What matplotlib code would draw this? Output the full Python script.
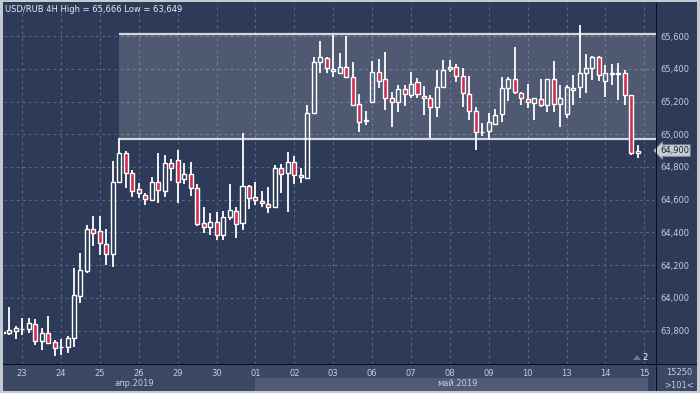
import matplotlib
matplotlib.use('Agg')
import matplotlib.pyplot as plt
from matplotlib.patches import Rectangle, Polygon

# USD/RUB 4H candles (price in rubles)
opens = [63.784, 63.784, 63.800, 63.808, 63.812, 63.841, 63.739, 63.784, 63.729, 63.699,
         63.702, 63.753, 64.013, 64.166, 64.419, 64.409, 64.327, 64.266, 64.710, 64.883,
         64.761, 64.663, 64.627, 64.598, 64.708, 64.655, 64.822, 64.842, 64.725, 64.757,
         64.670, 64.456, 64.431, 64.462, 64.384, 64.496, 64.533, 64.456, 64.685, 64.618,
         64.590, 64.576, 64.554, 64.792, 64.761, 64.828, 64.749, 64.731, 65.128, 65.439,
         65.464, 65.384, 65.376, 65.409, 65.351, 65.183, 65.080, 65.195, 65.378, 65.335,
         65.219, 65.199, 65.274, 65.240, 65.321, 65.235, 65.223, 65.164, 65.290, 65.397,
         65.409, 65.357, 65.244, 65.142, 65.015, 65.020, 65.062, 65.123, 65.281, 65.335,
         65.250, 65.217, 65.193, 65.213, 65.178, 65.335, 65.185, 65.123, 65.281, 65.287,
         65.372, 65.403, 65.470, 65.327, 65.376, 65.376, 65.376, 65.240, 64.887]
highs = [63.804, 63.943, 63.830, 63.875, 63.875, 63.869, 63.814, 63.889, 63.743, 63.747,
         63.767, 64.181, 64.276, 64.445, 64.500, 64.500, 64.419, 64.838, 64.975, 64.899,
         64.780, 64.700, 64.643, 64.737, 64.883, 64.873, 64.847, 64.904, 64.826, 64.832,
         64.696, 64.554, 64.517, 64.527, 64.533, 64.696, 64.554, 65.006, 64.690, 64.710,
         64.653, 64.676, 64.812, 64.818, 64.893, 64.867, 64.792, 65.178, 65.474, 65.569,
         65.474, 65.606, 65.494, 65.600, 65.443, 65.246, 65.144, 65.449, 65.459, 65.500,
         65.260, 65.301, 65.301, 65.382, 65.342, 65.296, 65.240, 65.392, 65.453, 65.453,
         65.429, 65.403, 65.357, 65.168, 65.067, 65.128, 65.152, 65.348, 65.351, 65.531,
         65.260, 65.307, 65.222, 65.335, 65.338, 65.449, 65.301, 65.301, 65.362, 65.666,
         65.490, 65.478, 65.478, 65.423, 65.429, 65.433, 65.392, 65.242, 64.934]
lows = [63.773, 63.773, 63.747, 63.773, 63.784, 63.712, 63.682, 63.718, 63.645, 63.649,
        63.665, 63.702, 63.967, 64.154, 64.317, 64.262, 64.201, 64.191, 64.708, 64.670,
        64.615, 64.609, 64.569, 64.594, 64.578, 64.615, 64.716, 64.578, 64.696, 64.623,
        64.439, 64.398, 64.384, 64.354, 64.354, 64.476, 64.364, 64.415, 64.541, 64.568,
        64.557, 64.521, 64.547, 64.643, 64.527, 64.696, 64.704, 64.725, 65.123, 65.376,
        65.372, 65.351, 65.372, 65.345, 65.172, 65.015, 65.056, 65.189, 65.281, 65.148,
        65.046, 65.138, 65.172, 65.219, 65.219, 65.117, 64.975, 65.103, 65.290, 65.382,
        65.321, 65.164, 65.087, 64.904, 64.989, 64.965, 65.056, 65.076, 65.205, 65.246,
        65.178, 65.158, 65.087, 65.168, 65.138, 65.138, 65.046, 65.097, 65.178, 65.219,
        65.250, 65.331, 65.327, 65.229, 65.301, 65.209, 65.178, 64.873, 64.853]
closes = [63.794, 63.804, 63.814, 63.812, 63.845, 63.739, 63.784, 63.723, 63.692, 63.697,
          63.753, 64.018, 64.170, 64.421, 64.395, 64.334, 64.266, 64.710, 64.883, 64.761,
          64.655, 64.639, 64.606, 64.706, 64.659, 64.822, 64.792, 64.710, 64.757, 64.670,
          64.450, 64.431, 64.462, 64.384, 64.496, 64.537, 64.452, 64.685, 64.609, 64.598,
          64.578, 64.554, 64.792, 64.757, 64.828, 64.751, 64.737, 65.128, 65.439, 65.470,
          65.403, 65.397, 65.409, 65.351, 65.178, 65.076, 65.083, 65.378, 65.327, 65.219,
          65.199, 65.274, 65.244, 65.305, 65.244, 65.219, 65.164, 65.287, 65.392, 65.409,
          65.356, 65.250, 65.142, 65.015, 65.012, 65.073, 65.117, 65.281, 65.335, 65.256,
          65.219, 65.197, 65.219, 65.178, 65.335, 65.185, 65.219, 65.287, 65.270, 65.372,
          65.403, 65.470, 65.362, 65.376, 65.366, 65.366, 65.240, 64.887, 64.900]

day_labels = ['23', '24', '25', '26', '29', '30', '01', '02', '03', '06', '07', '08',
              '09', '10', '13', '14', '15']
month_labels = ['апр.2019', 'май.2019']
price_ticks = [63.8, 64.0, 64.2, 64.4, 64.6, 64.8, 65.0, 65.2, 65.4, 65.6]

# channel drawn on the chart
range_start = 18
range_top = 65.612
range_bottom = 64.970
last_price = 64.900

W, H = 700, 393
BG = '#2e3b58'
STRIP = '#3b4864'
TXT = '#c3cde2'
RED = '#d42b4c'
FONT = 'DejaVu Sans'


def fx(px):
    return px / W


def fy(py):
    return 1 - py / H


def panel(fig, x0, y0, x1, y1, color, z=-2):
    fig.patches.append(Rectangle((fx(x0), fy(y1)), (x1 - x0) / W, (y1 - y0) / H,
                                 transform=fig.transFigure, fc=color, ec='none', zorder=z))


fig = plt.figure(figsize=(7, 3.93), dpi=100)
fig.patch.set_facecolor('#c5c9d1')

panel(fig, 3, 2, 697, 391, BG)
panel(fig, 3, 364, 697, 391, STRIP)
panel(fig, 255, 378, 648, 391, '#4f5b77')
panel(fig, 648, 365, 655, 391, '#344160')

ax = fig.add_axes([fx(4), fy(364), (656 - 4) / W, (364 - 3) / H])
ax.set_zorder(2)
ax.set_facecolor(BG)
for s in ax.spines.values():
    s.set_visible(False)

panel(fig, 656, 3, 657, 391, '#0b0f18', z=5)
panel(fig, 3, 364, 697, 365, '#0b0f18', z=5)

n = len(opens)
xs = list(range(n))
ax.set_xlim(0.2, 100.8)
ax.set_ylim(63.596, 65.802)

# grid
day_pos = [3 + 6 * k for k in range(len(day_labels))]
for p in day_pos:
    ax.axvline(p, color='#5a6683', lw=0.8, ls=(0, (2.5, 3)), zorder=1)
for t in price_ticks:
    ax.axhline(t, color='#5a6683', lw=0.8, ls=(0, (2.5, 3)), zorder=1)

# range box
ax.add_patch(Rectangle((range_start, range_bottom), 101 - range_start, range_top - range_bottom,
                       fc='white', alpha=0.16, ec='none', zorder=2))
ax.hlines([range_top, range_bottom], range_start, 101, color='#d3d6dd', lw=1.6, zorder=3)

# candles
bw = 0.62
for i in xs:
    o, h, l, c = opens[i], highs[i], lows[i], closes[i]
    top = max(o, c)
    bot = min(o, c)
    ax.vlines(i, top, h, color='white', lw=1.3, zorder=4)
    ax.vlines(i, l, bot, color='white', lw=1.3, zorder=4)
    height = max(top - bot, 0.004)
    face = RED if c < o else 'none'
    ax.add_patch(Rectangle((i - bw / 2, bot), bw, height, fc=face, ec='white', lw=1.0, zorder=5))

ax.set_xticks([])
ax.yaxis.tick_right()
ax.set_yticks(price_ticks)
ax.set_yticklabels([f'{t:.3f}'.replace('.', ',') for t in price_ticks])
ax.tick_params(axis='y', length=0, pad=3, labelsize=6, labelcolor=TXT)
for lab in ax.get_yticklabels():
    lab.set_family(FONT)

# last price tag
ax.text(1.006, last_price, f'{last_price:.3f}'.replace('.', ','), transform=ax.get_yaxis_transform(),
        ha='left', va='center', fontsize=6, color='#1d2438', family=FONT, zorder=6,
        bbox=dict(boxstyle='larrow,pad=0.15', fc='#c8ccd4', ec='#8d93a3', lw=0.6))

# day and month labels
for p, lab in zip(day_pos, day_labels):
    ax.text(p, -0.025, lab, transform=ax.get_xaxis_transform(), ha='center', va='center',
            fontsize=6, color=TXT, family=FONT, clip_on=False)
fig.text(fx(134), fy(383.5), month_labels[0], ha='center', va='center', fontsize=6,
         color=TXT, family=FONT)
fig.text(fx(457), fy(383.5), month_labels[1], ha='center', va='center', fontsize=6,
         color=TXT, family=FONT)

# title
fig.text(fx(5), fy(10), 'USD/RUB 4H High = 65,666 Low = 63,649', ha='left', va='center',
         fontsize=6, color='#e6e9f0', family=FONT, zorder=6)

# bottom right corner box
fig.text(fx(679), fy(372.5), '15250', ha='center', va='center', fontsize=6, color=TXT, family=FONT)
fig.text(fx(679), fy(385), '>101<', ha='center', va='center', fontsize=6, color=TXT, family=FONT)
panel(fig, 663, 379.5, 695, 380.3, '#7c869c', z=5)

fig.text(fx(645.5), fy(357.5), '2', ha='center', va='center', fontsize=6, color='white',
         family=FONT, zorder=6)
fig.patches.append(Polygon([[fx(633), fy(360)], [fx(641), fy(360)], [fx(637), fy(355)]], closed=True,
                           transform=fig.transFigure, fc='#6c7690', ec='none', zorder=6))

fig.savefig('out.png', dpi=100, facecolor=fig.get_facecolor())
